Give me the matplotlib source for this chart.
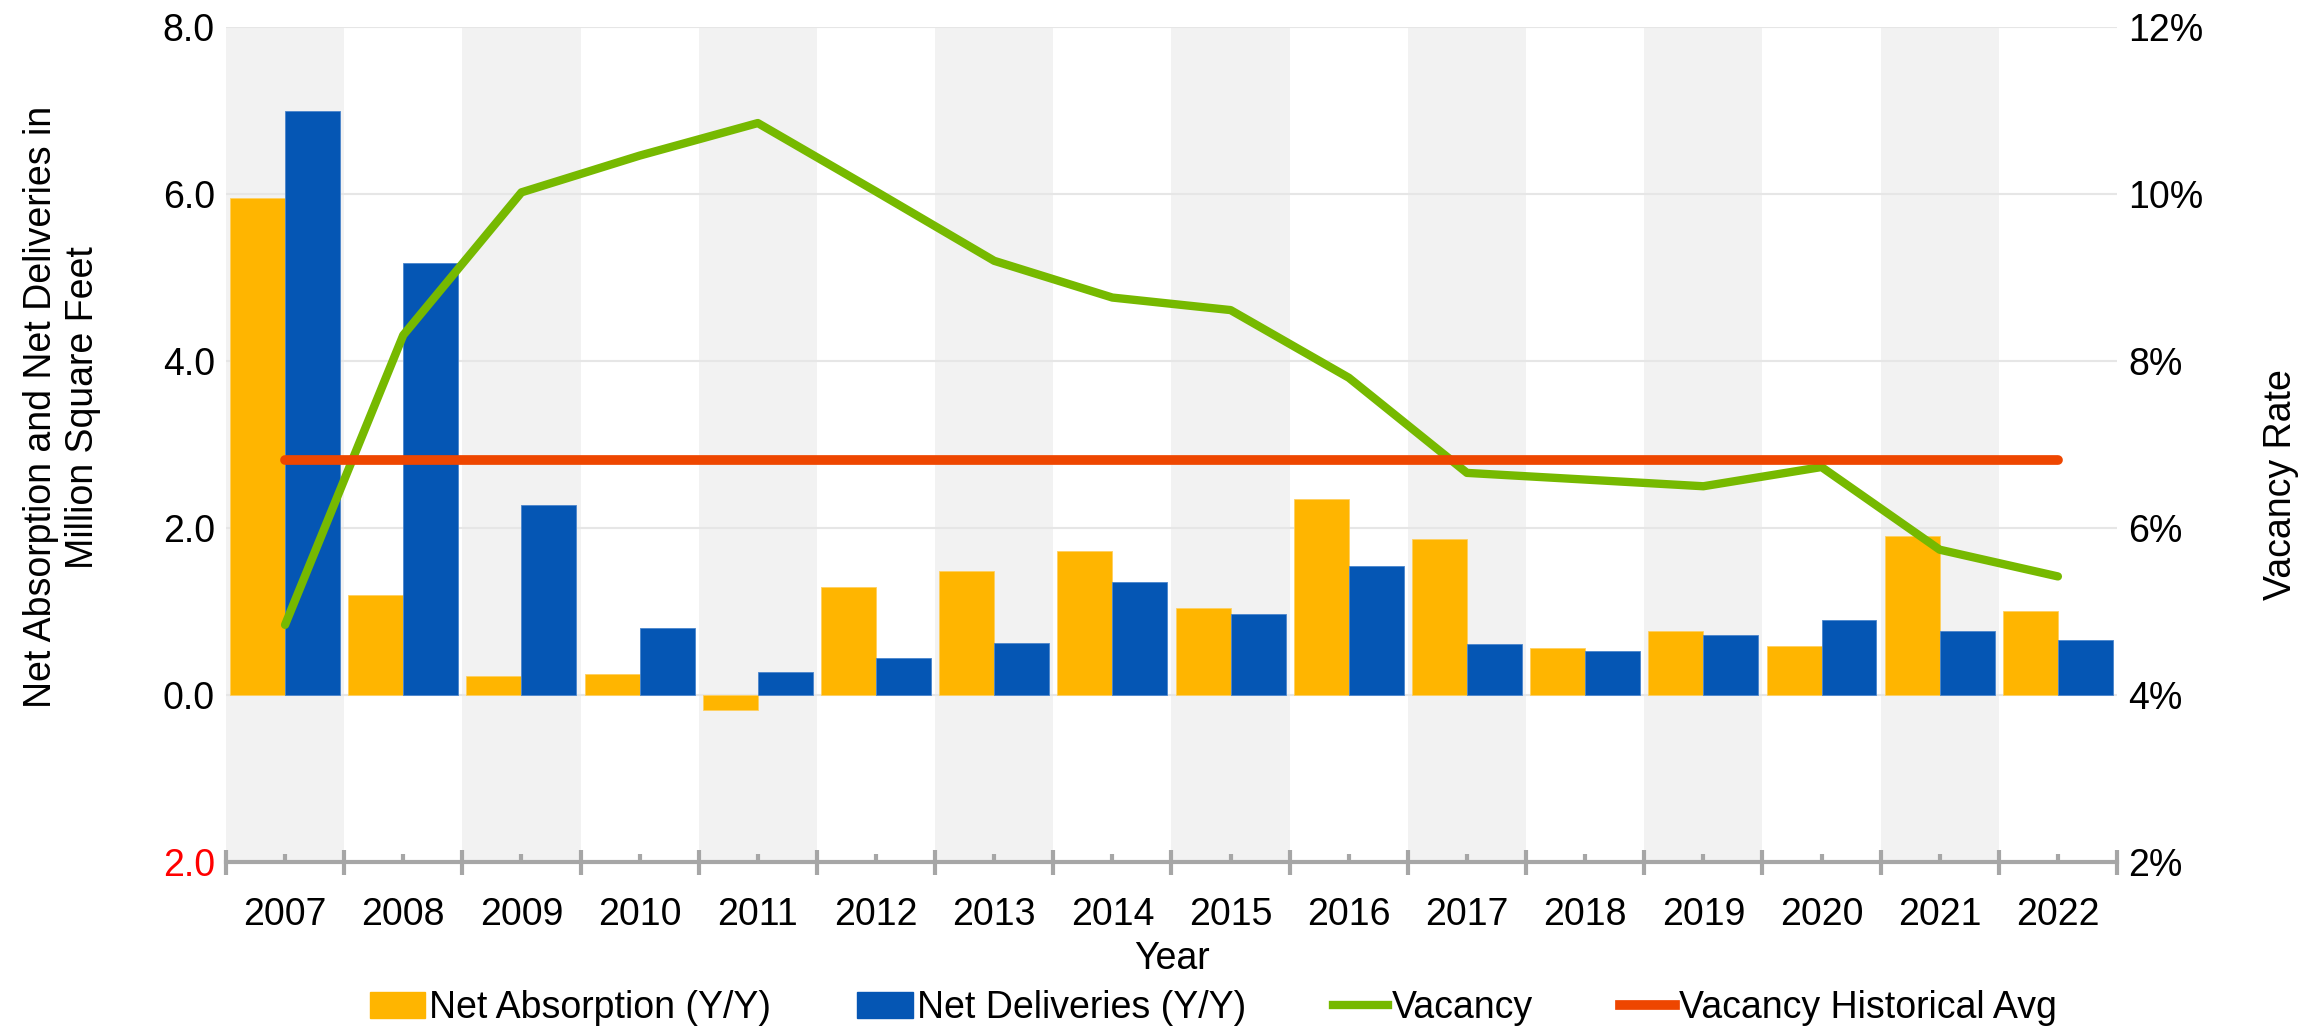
import numpy as np
import matplotlib
matplotlib.use("Agg")
import matplotlib.pyplot as plt
from matplotlib.lines import Line2D
from matplotlib.patches import Patch

plt.rcParams['font.family'] = ['Liberation Sans', 'DejaVu Sans']

# data
years = ['2007', '2008', '2009', '2010', '2011', '2012', '2013', '2014',
         '2015', '2016', '2017', '2018', '2019', '2020', '2021', '2022']
net_absorption = [5.95, 1.20, 0.23, 0.25, -0.18, 1.29, 1.49, 1.73,
                  1.04, 2.35, 1.87, 0.56, 0.77, 0.59, 1.90, 1.00]
net_deliveries = [6.99, 5.17, 2.27, 0.80, 0.28, 0.44, 0.62, 1.35,
                  0.97, 1.54, 0.61, 0.53, 0.72, 0.90, 0.77, 0.66]
vacancy = [4.84, 8.31, 10.02, 10.46, 10.85, 10.03, 9.20, 8.76,
           8.61, 7.80, 6.66, 6.58, 6.50, 6.73, 5.74, 5.42]
vacancy_hist_avg = 6.81

c_orange = '#FFB500'
c_blue = '#0556B4'
c_green = '#76B900'
c_red = '#EE4600'
c_axis = '#A6A6A6'
fs = 27

fig = plt.figure(figsize=(23.2, 10.28), dpi=100)
ax = fig.add_axes([0.0974, 0.1615, 0.8151, 0.8122])
x = np.arange(len(years))

# alternating background bands
for i in range(0, len(years), 2):
    ax.axvspan(i - 0.5, i + 0.5, color='#F2F2F2', zorder=0, lw=0)

w = 0.465
ax.bar(x - w / 2, net_absorption, w, color=c_orange, edgecolor='#FFD060', lw=0.6, zorder=2)
ax.bar(x + w / 2, net_deliveries, w, color=c_blue, edgecolor='#4A85CC', lw=0.6, zorder=2)

ax.set_xlim(-0.5, len(years) - 0.5)
ax.set_ylim(-2, 8)
ax.set_yticks(np.arange(-2, 9, 2))
ax.set_yticklabels(['2.0', '0.0', '2.0', '4.0', '6.0', '8.0'])
ax.get_yticklabels()[0].set_color('red')
ax.yaxis.grid(True, color='#E6E6E6', lw=1.5, zorder=1)
ax.set_axisbelow(True)
ax.tick_params(axis='y', length=0, pad=8, labelsize=fs)

ax.set_xticks(x)
ax.set_xticklabels(years)
ax.set_xticks(np.arange(-0.5, len(years), 1), minor=True)
ax.tick_params(axis='x', which='major', direction='in', length=6, width=3,
               color=c_axis, pad=25, labelsize=fs)
ax.tick_params(axis='x', which='minor', direction='inout', length=18, width=3,
               color=c_axis)
for s in ['top', 'left', 'right']:
    ax.spines[s].set_visible(False)
ax.spines['bottom'].set_color(c_axis)
ax.spines['bottom'].set_linewidth(3)

ax2 = ax.twinx()
ax2.plot(x, vacancy, color=c_green, lw=6, solid_capstyle='round', solid_joinstyle='round')
ax2.plot([x[0], x[-1]], [vacancy_hist_avg, vacancy_hist_avg], color=c_red, lw=7,
         solid_capstyle='round')
ax2.set_ylim(2, 12)
ax2.set_yticks(np.arange(2, 13, 2))
ax2.set_yticklabels([f'{v}%' for v in range(2, 13, 2)])
ax2.tick_params(axis='y', length=0, pad=8, labelsize=fs)
for s in ax2.spines.values():
    s.set_visible(False)

fig.text(0.0267, 0.604, 'Net Absorption and Net Deliveries in\nMillion Square Feet',
         rotation=90, ha='center', va='center', fontsize=fs, multialignment='center')
fig.text(0.983, 0.529, 'Vacancy Rate', rotation=90, ha='center', va='center', fontsize=fs)
fig.text(0.505, 0.067, 'Year', ha='center', va='center', fontsize=fs)

handles = [Patch(color=c_orange), Patch(color=c_blue),
           Line2D([], [], color=c_green, lw=6), Line2D([], [], color=c_red, lw=7)]
labels = ['Net Absorption (Y/Y)', 'Net Deliveries (Y/Y)', 'Vacancy', 'Vacancy Historical Avg']
fig.legend(handles, labels, loc='center', bbox_to_anchor=(0.523, 0.0195), ncol=4,
           frameon=False, fontsize=fs, handlelength=1.47, handletextpad=0.12,
           columnspacing=2.3, borderaxespad=0, borderpad=0)

fig.savefig('out.png', dpi=100)
